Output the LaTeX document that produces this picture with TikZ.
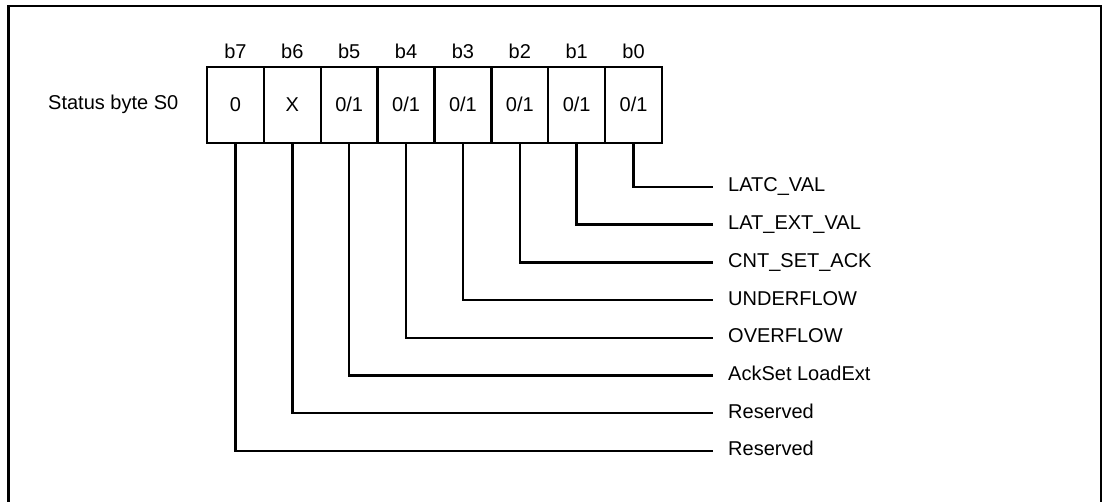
\documentclass[tikz,border=0pt]{standalone}
\usepackage{fontspec}
\setmainfont{Liberation Sans}
\begin{document}
\begin{tikzpicture}[x=1pt,y=-1pt,
  every node/.style={font=\fontsize{20}{22}\selectfont},
  cell/.style={draw, line width=2.4pt, minimum width=56.875pt, minimum height=76pt, inner sep=0pt, text height=14pt, text depth=0pt},
  bitlbl/.style={anchor=base, inner sep=0pt},
  desc/.style={anchor=base west, inner sep=0pt},
  conn/.style={line width=2.4pt}]
\useasboundingbox (0,0) rectangle (1105,502);
% frame (open at bottom)
\draw[line width=2.2pt] (8.5,502) -- (8.5,6) -- (1101,6) -- (1101,502);
\node[anchor=base west, inner sep=0pt] (title) at (48,110) {Status byte S0};
\foreach \i/\v in {7/0,6/X,5/0\slash1,4/0\slash1,3/0\slash1,2/0\slash1,1/0\slash1,0/0\slash1}{
  \pgfmathsetmacro{\cx}{207+56.875*(7-\i)+28.4375}
  \node[cell] (c\i) at (\cx,105) {\v};
  \node[bitlbl] (b\i) at (\cx,59) {b\i};
}
\foreach \i/\t in {0/LATC\_VAL,1/LAT\_EXT\_VAL,2/CNT\_SET\_ACK,3/UNDERFLOW,4/OVERFLOW,5/AckSet LoadExt,6/Reserved,7/Reserved}{
  \pgfmathsetmacro{\ly}{187+37.7*\i}
  \node[desc] (l\i) at (728,\ly+5) {\t};
  \coordinate (e\i) at (713,\ly);
  \draw[conn] (c\i.south) |- (e\i);
}
\end{tikzpicture}
\end{document}
